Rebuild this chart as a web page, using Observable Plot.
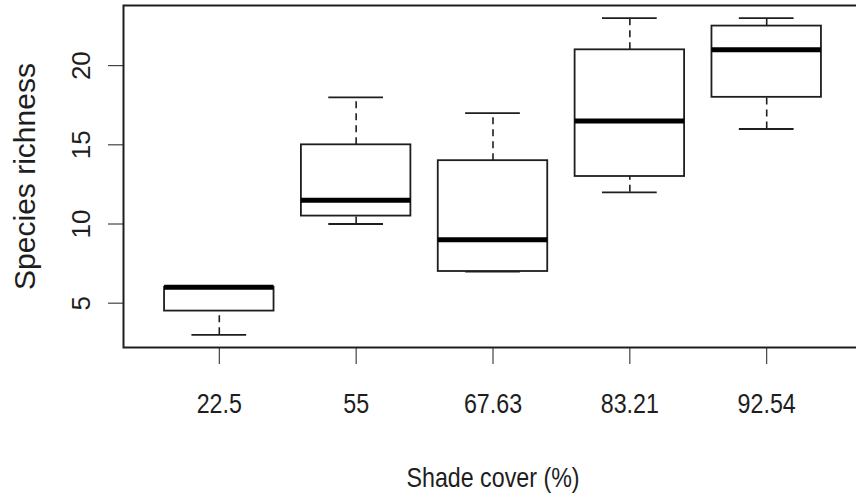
<!DOCTYPE html>
<html>
<head>
<meta charset="utf-8">
<script src="https://cdn.jsdelivr.net/npm/d3@7"></script>
<script src="https://cdn.jsdelivr.net/npm/@observablehq/plot@0.6"></script>
<style>
  html, body { margin: 0; padding: 0; background: #fff; }
  svg { display: block; }
</style>
</head>
<body>
<div id="chart"></div>
<script>
// Shade cover groups (x categories)
const groups = ["22.5", "55", "67.63", "83.21", "92.54"];
// Five-number summaries of species richness per group
const lowerWhisker = [3, 10, 7, 12, 16];
const q1 = [4.5, 10.5, 7, 13, 18];
const median = [6, 11.5, 9, 16.5, 21];
const q3 = [6, 15, 14, 21, 22.5];
const upperWhisker = [6, 18, 17, 23, 23];
// Axis ticks
const yTicks = [5, 10, 15, 20];
const xTitle = "Shade cover (%)";
const yTitle = "Species richness";

const rows = groups.map((g, i) => ({
  group: g, pos: i + 1,
  lo: lowerWhisker[i], q1: q1[i], med: median[i], q3: q3[i], hi: upperWhisker[i]
}));

const ink = "#1e1e1e";
const boxHalf = 0.4, stapleHalf = 0.2;
const narrow = "'Liberation Sans Narrow', 'Arial Narrow', 'Liberation Sans', sans-serif";

const chart = Plot.plot({
  width: 856,
  height: 496,
  marginLeft: 123,
  marginRight: -6,
  marginTop: 5,
  marginBottom: 149,
  style: {background: "#fff", color: ink, fontFamily: "'Liberation Sans', Arial, sans-serif"},
  x: {domain: [0.3, 5.7], ticks: [1, 2, 3, 4, 5], tickSize: 17, tickFormat: () => "", label: null},
  y: {domain: [2.2, 23.8], ticks: yTicks, tickSize: 15, tickFormat: () => "", label: null},
  marks: [
    Plot.frame({stroke: ink, strokeWidth: 2}),
    // whiskers (dashed)
    Plot.ruleX(rows, {x: "pos", y1: "q3", y2: "hi", stroke: ink, strokeWidth: 1.6, strokeDasharray: "7,5"}),
    Plot.ruleX(rows, {x: "pos", y1: "lo", y2: "q1", stroke: ink, strokeWidth: 1.6, strokeDasharray: "7,5"}),
    // staples
    Plot.ruleY(rows, {y: "hi", x1: d => d.pos - stapleHalf, x2: d => d.pos + stapleHalf, stroke: ink, strokeWidth: 1.8}),
    Plot.ruleY(rows, {y: "lo", x1: d => d.pos - stapleHalf, x2: d => d.pos + stapleHalf, stroke: ink, strokeWidth: 1.8}),
    // boxes
    Plot.rect(rows, {x1: d => d.pos - boxHalf, x2: d => d.pos + boxHalf, y1: "q1", y2: "q3", fill: "white", stroke: ink, strokeWidth: 1.8, inset: 0}),
    // medians
    Plot.ruleY(rows, {y: "med", x1: d => d.pos - boxHalf, x2: d => d.pos + boxHalf, stroke: "#000", strokeWidth: 5}),
    // x tick labels
    Plot.text(rows, {x: "pos", frameAnchor: "bottom", dy: 57, text: "group", lineAnchor: "middle", textAnchor: "middle",
      fontSize: 28, fill: ink, fontFamily: narrow}),
    // y tick labels
    Plot.text(yTicks, {y: d => d, frameAnchor: "left", dx: -42, rotate: -90, text: d => String(d),
      lineAnchor: "middle", textAnchor: "middle", fontSize: 26, fill: ink}),
    // axis titles
    Plot.text([xTitle], {frameAnchor: "bottom", dy: 131, text: d => d, lineAnchor: "middle", textAnchor: "middle",
      fontSize: 28, fill: ink, fontFamily: narrow}),
    Plot.text([yTitle], {frameAnchor: "left", dx: -98, rotate: -90, text: d => d,
      lineAnchor: "middle", textAnchor: "middle", fontSize: 30, fill: ink})
  ]
});
document.getElementById("chart").appendChild(chart);

// Condense the horizontal texts (narrow look of the reference)
d3.select(chart).selectAll("g[font-family*='Narrow'] text").each(function () {
  const w = this.getComputedTextLength();
  this.setAttribute("textLength", (w * 0.83).toFixed(1));
  this.setAttribute("lengthAdjust", "spacingAndGlyphs");
});
</script>
</body>
</html>
